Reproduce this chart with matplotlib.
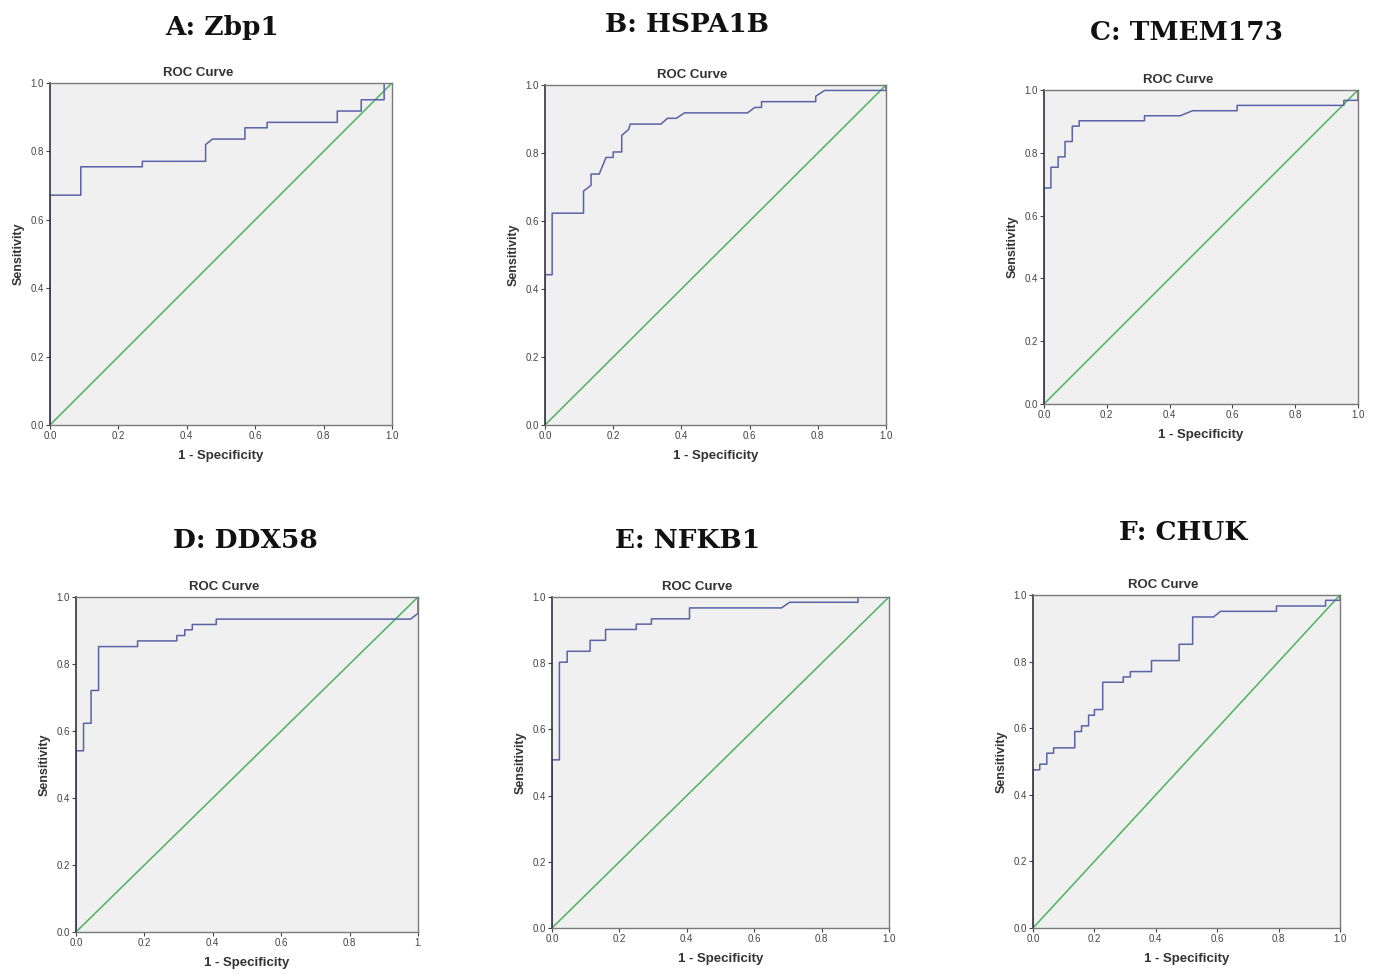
import matplotlib
matplotlib.use("Agg")
import matplotlib.pyplot as plt

W, H = 1375, 974

# ROC curve vertices (1 - specificity, sensitivity)
zbp1_x = [0, 0, 0.09, 0.09, 0.27, 0.27, 0.455, 0.455, 0.475, 0.57, 0.57, 0.635, 0.635,
          0.84, 0.84, 0.91, 0.91, 0.977, 0.977, 1.0]
zbp1_y = [0, 0.672, 0.672, 0.755, 0.755, 0.771, 0.771, 0.82, 0.836, 0.836, 0.869, 0.869, 0.885,
          0.885, 0.918, 0.918, 0.951, 0.951, 1.0, 1.0]

hspa1b_x = [0, 0, 0.021, 0.021, 0.113, 0.113, 0.135, 0.135, 0.159, 0.179, 0.2, 0.2, 0.225, 0.225,
            0.245, 0.25, 0.34, 0.359, 0.385, 0.409, 0.594, 0.615, 0.635, 0.635, 0.794, 0.794,
            0.82, 1.0, 1.0]
hspa1b_y = [0, 0.442, 0.442, 0.623, 0.623, 0.688, 0.705, 0.738, 0.738, 0.787, 0.787, 0.803, 0.803,
            0.852, 0.869, 0.885, 0.885, 0.902, 0.902, 0.918, 0.918, 0.934, 0.934, 0.951, 0.951,
            0.967, 0.984, 0.984, 1.0]

tmem173_x = [0, 0, 0.022, 0.022, 0.045, 0.045, 0.067, 0.067, 0.09, 0.09, 0.112, 0.112, 0.32, 0.32,
             0.434, 0.473, 0.615, 0.615, 0.955, 0.955, 1.0, 1.0]
tmem173_y = [0, 0.688, 0.688, 0.754, 0.754, 0.787, 0.787, 0.836, 0.836, 0.885, 0.885, 0.902,
             0.902, 0.918, 0.918, 0.934, 0.934, 0.951, 0.951, 0.967, 0.967, 1.0]

ddx58_x = [0, 0, 0.022, 0.022, 0.044, 0.044, 0.066, 0.066, 0.18, 0.18, 0.295, 0.295, 0.318, 0.318,
           0.34, 0.34, 0.41, 0.41, 0.978, 1.0, 1.0]
ddx58_y = [0, 0.541, 0.541, 0.623, 0.623, 0.721, 0.721, 0.852, 0.852, 0.869, 0.869, 0.885, 0.885,
           0.902, 0.902, 0.918, 0.918, 0.934, 0.934, 0.951, 1.0]

nfkb1_x = [0, 0, 0.022, 0.022, 0.045, 0.045, 0.113, 0.113, 0.159, 0.159, 0.25, 0.25, 0.295, 0.295,
           0.408, 0.408, 0.681, 0.705, 0.908, 0.908, 1.0]
nfkb1_y = [0, 0.508, 0.508, 0.803, 0.803, 0.836, 0.836, 0.869, 0.869, 0.902, 0.902, 0.918, 0.918,
           0.934, 0.934, 0.967, 0.967, 0.984, 0.984, 1.0, 1.0]

chuk_x = [0, 0, 0.022, 0.022, 0.045, 0.045, 0.067, 0.067, 0.136, 0.136, 0.158, 0.158, 0.181, 0.181,
          0.2, 0.2, 0.227, 0.227, 0.294, 0.294, 0.317, 0.317, 0.386, 0.386, 0.476, 0.476, 0.52,
          0.52, 0.588, 0.611, 0.793, 0.793, 0.953, 0.953, 1.0, 1.0]
chuk_y = [0, 0.475, 0.475, 0.492, 0.492, 0.525, 0.525, 0.541, 0.541, 0.59, 0.59, 0.607, 0.607,
          0.639, 0.639, 0.656, 0.656, 0.738, 0.738, 0.754, 0.754, 0.77, 0.77, 0.803, 0.803, 0.852,
          0.852, 0.934, 0.934, 0.951, 0.951, 0.967, 0.967, 0.984, 0.984, 1.0]

titles = ["A: Zbp1", "B: HSPA1B", "C: TMEM173", "D: DDX58", "E: NFKB1", "F: CHUK"]
curves = [(zbp1_x, zbp1_y), (hspa1b_x, hspa1b_y), (tmem173_x, tmem173_y),
          (ddx58_x, ddx58_y), (nfkb1_x, nfkb1_y), (chuk_x, chuk_y)]
ticks = [0.0, 0.2, 0.4, 0.6, 0.8, 1.0]
tick_labels = ["0.0", "0.2", "0.4", "0.6", "0.8", "1.0"]

# axes boxes in pixels: left, right, top, bottom ; title position (x, y)
boxes = [(50, 392, 83, 425), (545, 886, 85, 425), (1044, 1358, 90, 404),
         (76, 418, 597, 932), (552, 889, 597, 928), (1033, 1340, 595, 928)]
title_pos = [(222, 27), (687, 24), (1187, 33), (245, 541), (688, 541), (1183, 532)]

blue = "#5a62a8"
green = "#4cb35c"
sans = "Liberation Sans"

fig = plt.figure(figsize=(W / 100, H / 100), dpi=100)
fig.patch.set_facecolor("white")

for i, (title, (cx, cy)) in enumerate(zip(titles, curves)):
    l, r, t, b = boxes[i]
    ax = fig.add_axes([l / W, 1 - b / H, (r - l) / W, (b - t) / H])
    ax.set_facecolor("#f0f0f0")
    ax.plot([0, 1], [0, 1], color=green, lw=1.1)
    ax.plot(cx, cy, color=blue, lw=1.1)
    ax.set_xlim(0, 1)
    ax.set_ylim(0, 1)
    ax.set_xticks(ticks)
    ax.set_yticks(ticks)
    xl = list(tick_labels)
    if i == 3:
        xl[-1] = "1."
    ax.set_xticklabels(xl, family=sans)
    ax.set_yticklabels(tick_labels, family=sans)
    ax.tick_params(labelsize=7, colors="#444444", length=3, width=0.8, pad=1.5)
    for s in ax.spines.values():
        s.set_color("#7a7a7a")
        s.set_linewidth(1.0)
    ax.spines["left"].set_color("#333344")
    ax.spines["left"].set_linewidth(1.2)
    # SPSS centres the chart title over the whole chart, not the plot box
    ax.text(0.5 - 23 / (r - l), 1 + 4 / (b - t), "ROC Curve", transform=ax.transAxes,
            ha="center", va="bottom", fontsize=9.5, fontweight="bold", color="#333333",
            family=sans)
    ax.set_xlabel("1 - Specificity", fontsize=9.5, fontweight="bold", color="#333333",
                  labelpad=6, family=sans)
    ax.set_ylabel("Sensitivity", fontsize=9, fontweight="bold", color="#333333",
                  labelpad=4, family=sans)
    tx, ty = title_pos[i]
    fig.text(tx / W, 1 - ty / H, title, ha="center", va="center", fontsize=19,
             fontweight="bold", family="DejaVu Serif", color="#111111")

fig.savefig("out.png", dpi=100)
